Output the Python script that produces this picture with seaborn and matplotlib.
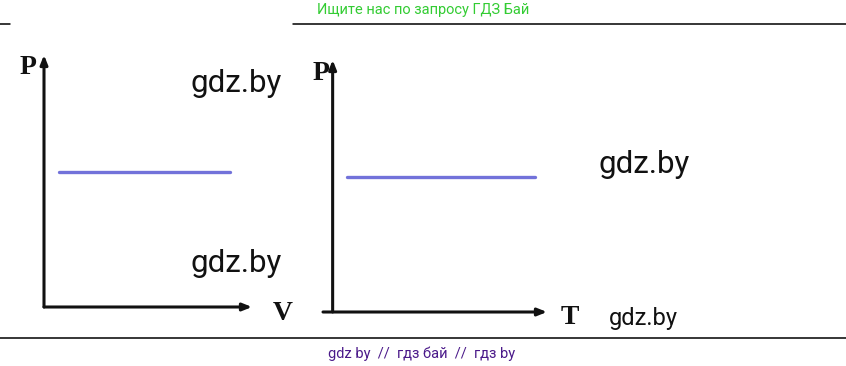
import matplotlib
matplotlib.use("Agg")
import matplotlib.pyplot as plt
import seaborn as sns
import pandas as pd

# ---- data ----
pv_volume = [0.72, 8.94]
pv_pressure = [5.36, 5.36]
pt_temperature = [0.65, 9.44]
pt_pressure = [5.36, 5.36]
axis_max = 10

header_text = "Ищите нас по запросу ГДЗ Бай"
footer_text = "gdz by  //  гдз бай  //  гдз by"
watermark = "gdz.by"

sns.set_theme(style="white")
plt.rcParams['font.family'] = ['Roboto', 'DejaVu Sans']

W, H = 846, 366
fig = plt.figure(figsize=(W / 100, H / 100), dpi=100)
fig.patch.set_facecolor("white")


def fx(x):
    return x / W


def fy(y):
    return 1 - y / H


def add_axes_px(left, top, right, bottom):
    return fig.add_axes([fx(left), fy(bottom), (right - left) / W, (bottom - top) / H])


line_color = "#7272da"
axis_color = "#111111"


def draw_axes(ax, xmin):
    ax.set_xlim(xmin, axis_max)
    ax.set_ylim(0, axis_max)
    for s in ax.spines.values():
        s.set_visible(False)
    ax.set_xticks([])
    ax.set_yticks([])
    ax.set_facecolor("none")
    ax.set_xlabel("")
    ax.set_ylabel("")
    arrow = dict(arrowstyle="-|>,head_length=0.45,head_width=0.18", lw=2.2,
                 color=axis_color, shrinkA=0, shrinkB=0)
    ax.annotate("", xy=(axis_max, 0), xytext=(xmin, 0), arrowprops=arrow,
                annotation_clip=False)
    ax.annotate("", xy=(0, axis_max), xytext=(0, 0), arrowprops=arrow,
                annotation_clip=False)


# P-V chart
ax1 = add_axes_px(44, 55, 252, 307)
df1 = pd.DataFrame({"V": pv_volume, "P": pv_pressure})
sns.lineplot(data=df1, x="V", y="P", ax=ax1, color=line_color, lw=2.4)
draw_axes(ax1, 0)

# P-T chart
ax2 = add_axes_px(323, 60, 547, 312)
df2 = pd.DataFrame({"T": pt_temperature, "P": pt_pressure})
sns.lineplot(data=df2, x="T", y="P", ax=ax2, color=line_color, lw=2.4)
draw_axes(ax2, -0.45)

# axis letters
serif = dict(family="Liberation Serif", fontweight="bold", fontsize=20, color="#111111",
             ha="center", va="center")
fig.text(fx(28), fy(68), "P", **serif)
fig.text(fx(283), fy(313), "V", **serif)
fig.text(fx(321), fy(74), "P", **serif)
fig.text(fx(570), fy(318), "T", **serif)

# watermarks
wm = dict(ha="center", va="center", color="#111111")
fig.text(fx(236), fy(84), watermark, fontsize=22.5, **wm)
fig.text(fx(236), fy(264), watermark, fontsize=22.5, **wm)
fig.text(fx(644), fy(165), watermark, fontsize=22.5, **wm)
fig.text(fx(643), fy(318), watermark, fontsize=17, **wm)

# header / footer
fig.text(fx(423), fy(10), header_text, fontsize=10.5, color="#33cc33", ha="center", va="center")
fig.text(fx(422), fy(354), footer_text, fontsize=10.5, color="#4b1a8a", ha="center", va="center")

# separator lines
fig.add_artist(plt.Line2D([fx(0), fx(10)], [fy(24), fy(24)], color="black", lw=1.1))
fig.add_artist(plt.Line2D([fx(293), fx(846)], [fy(24), fy(24)], color="black", lw=1.1))
fig.add_artist(plt.Line2D([fx(0), fx(846)], [fy(338), fy(338)], color="black", lw=1.1))

fig.savefig("out.png", dpi=100, facecolor="white")
